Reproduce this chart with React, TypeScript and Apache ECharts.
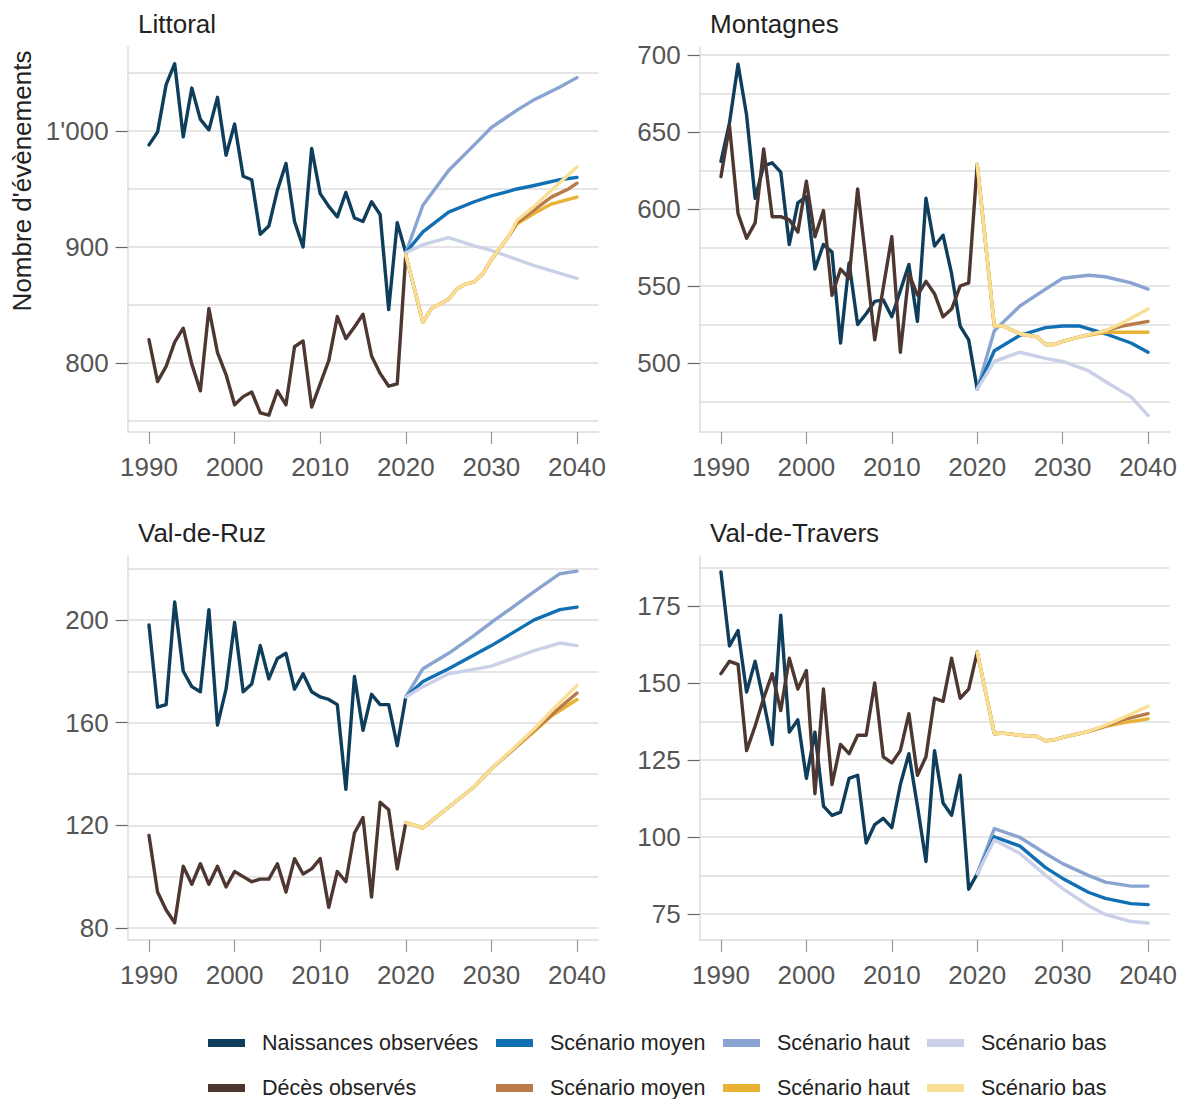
import React, { useEffect, useRef } from "react";
import * as echarts from "echarts";

// ---------- data ----------
const obsYears = [1990, 1991, 1992, 1993, 1994, 1995, 1996, 1997, 1998, 1999, 2000, 2001, 2002, 2003, 2004, 2005, 2006, 2007, 2008, 2009, 2010, 2011, 2012, 2013, 2014, 2015, 2016, 2017, 2018, 2019, 2020];
const xTicks = [1990, 2000, 2010, 2020, 2030, 2040];

// Littoral
const littoralBirths = [988, 999, 1040, 1058, 995, 1037, 1010, 1001, 1029, 979, 1006, 961, 958, 911, 918, 949, 972, 922, 900, 985, 946, 935, 926, 947, 925, 922, 939, 928, 846, 921, 895];
const littoralDeaths = [820, 784, 797, 818, 830, 799, 776, 847, 809, 790, 764, 771, 775, 757, 755, 776, 764, 814, 819, 762, 782, 802, 840, 821, 831, 842, 806, 791, 780, 782, 893];
const littoralBirthsMid = [[2020, 895], [2022, 913], [2025, 930], [2028, 939], [2030, 944], [2033, 950], [2035, 953], [2038, 958], [2040, 960]];
const littoralBirthsHigh = [[2020, 895], [2022, 936], [2025, 966], [2028, 988], [2030, 1003], [2033, 1018], [2035, 1027], [2038, 1038], [2040, 1046]];
const littoralBirthsLow = [[2020, 895], [2022, 902], [2025, 908], [2028, 901], [2030, 897], [2035, 884], [2040, 873]];
const littoralDeathsMid = [[2020, 893], [2022, 835], [2023, 847], [2025, 855], [2026, 864], [2027, 868], [2028, 870], [2029, 877], [2030, 889], [2032, 909], [2033, 921], [2035, 932], [2037, 943], [2039, 950], [2040, 955]];
const littoralDeathsHigh = [[2020, 893], [2022, 835], [2023, 847], [2025, 855], [2026, 864], [2027, 868], [2028, 870], [2029, 877], [2030, 889], [2032, 909], [2033, 920], [2035, 929], [2037, 937], [2039, 941], [2040, 943]];
const littoralDeathsLow = [[2020, 893], [2022, 835], [2023, 847], [2025, 855], [2026, 864], [2027, 868], [2028, 870], [2029, 877], [2030, 889], [2032, 909], [2033, 923], [2035, 935], [2037, 949], [2040, 969]];

// Montagnes
const montagnesBirths = [631, 656, 694, 661, 607, 628, 630, 624, 577, 604, 608, 561, 577, 572, 513, 565, 525, 532, 540, 541, 530, 547, 564, 527, 607, 576, 583, 558, 524, 515, 483];
const montagnesDeaths = [621, 654, 597, 581, 591, 639, 595, 595, 593, 585, 618, 582, 599, 544, 561, 555, 613, 565, 515, 549, 582, 507, 558, 544, 553, 545, 530, 535, 550, 552, 629];
const montagnesBirthsMid = [[2020, 483], [2022, 508], [2025, 518], [2028, 523], [2030, 524], [2032, 524], [2035, 519], [2038, 513], [2040, 507]];
const montagnesBirthsHigh = [[2020, 483], [2022, 521], [2025, 537], [2028, 548], [2030, 555], [2033, 557], [2035, 556], [2038, 552], [2040, 548]];
const montagnesBirthsLow = [[2020, 483], [2022, 501], [2025, 507], [2028, 503], [2030, 501], [2033, 495], [2035, 488], [2038, 478], [2040, 466]];
const montagnesDeathsMid = [[2020, 629], [2022, 524], [2023, 524], [2025, 519], [2027, 517], [2028, 512], [2029, 512], [2030, 514], [2032, 517], [2035, 521], [2037, 524], [2040, 527]];
const montagnesDeathsHigh = [[2020, 629], [2022, 524], [2023, 524], [2025, 519], [2027, 517], [2028, 512], [2029, 512], [2030, 514], [2032, 517], [2035, 520], [2037, 520], [2040, 520]];
const montagnesDeathsLow = [[2020, 629], [2022, 524], [2023, 524], [2025, 519], [2027, 517], [2028, 512], [2029, 512], [2030, 514], [2032, 517], [2035, 521], [2037, 526], [2040, 535]];

// Val-de-Ruz
const ruzBirths = [198, 166, 167, 207, 180, 174, 172, 204, 159, 173, 199, 172, 175, 190, 177, 185, 187, 173, 179, 172, 170, 169, 167, 134, 178, 157, 171, 167, 167, 151, 170];
const ruzDeaths = [116, 94, 87, 82, 104, 97, 105, 97, 104, 96, 102, 100, 98, 99, 99, 105, 94, 107, 101, 103, 107, 88, 102, 98, 117, 123, 92, 129, 126, 103, 121];
const ruzBirthsMid = [[2020, 170], [2022, 176], [2025, 181], [2030, 190], [2035, 200], [2038, 204], [2040, 205]];
const ruzBirthsHigh = [[2020, 170], [2022, 181], [2025, 187], [2028, 194], [2030, 199], [2035, 211], [2038, 218], [2040, 219]];
const ruzBirthsLow = [[2020, 170], [2022, 174], [2025, 179], [2030, 182], [2035, 188], [2038, 191], [2040, 190]];
const ruzDeathsMid = [[2020, 121], [2022, 119], [2025, 127], [2028, 135], [2030, 142], [2035, 157], [2037, 163], [2040, 171.5]];
const ruzDeathsHigh = [[2020, 121], [2022, 119], [2025, 127], [2028, 135], [2030, 142], [2035, 156.5], [2037, 162.5], [2040, 169]];
const ruzDeathsLow = [[2020, 121], [2022, 119], [2025, 127], [2028, 135], [2030, 142], [2035, 157.5], [2037, 164.5], [2040, 174.5]];

// Val-de-Travers
const traversBirths = [186, 162, 167, 147, 157, 144, 130, 172, 134, 138, 119, 134, 110, 107, 108, 119, 120, 98, 104, 106, 103, 117, 127, 110, 92, 128, 111, 107, 120, 83, 88];
const traversDeaths = [153, 157, 156, 128, 136, 145, 153, 141, 158, 148, 154, 114, 148, 117, 130, 127, 133, 133, 150, 126, 124, 128, 140, 120, 126, 145, 144, 158, 145, 148, 160];
const traversBirthsMid = [[2020, 88], [2022, 100], [2025, 97], [2028, 90], [2030, 86.5], [2033, 82], [2035, 80], [2038, 78.3], [2040, 78]];
const traversBirthsHigh = [[2020, 88], [2022, 102.7], [2025, 99.8], [2028, 94.6], [2030, 91.3], [2033, 87.5], [2035, 85.3], [2038, 84], [2040, 84]];
const traversBirthsLow = [[2020, 88], [2022, 99], [2025, 94.6], [2028, 87.5], [2030, 83.2], [2033, 77.7], [2035, 74.8], [2038, 72.5], [2040, 72]];
const traversDeathsMid = [[2020, 160], [2022, 133.5], [2023, 133.7], [2025, 133], [2027, 132.6], [2028, 131.2], [2029, 131.5], [2030, 132.3], [2033, 134.2], [2035, 136], [2037, 138], [2040, 140]];
const traversDeathsHigh = [[2020, 160], [2022, 133.5], [2023, 133.7], [2025, 133], [2027, 132.6], [2028, 131.2], [2029, 131.5], [2030, 132.3], [2033, 134.2], [2035, 135.8], [2037, 137], [2040, 138.3]];
const traversDeathsLow = [[2020, 160], [2022, 133.5], [2023, 133.7], [2025, 133], [2027, 132.6], [2028, 131.2], [2029, 131.5], [2030, 132.3], [2033, 134.2], [2035, 136.3], [2037, 138.6], [2040, 142.4]];

// axis ticks / ranges
const littoralLabels = [800, 900, 1000];
const littoralGrid = [750, 800, 850, 900, 950, 1000, 1050];
const montagnesLabels = [500, 550, 600, 650, 700];
const montagnesGrid = [475, 500, 525, 550, 575, 600, 625, 650, 675, 700];
const ruzLabels = [80, 120, 160, 200];
const ruzGrid = [80, 100, 120, 140, 160, 180, 200, 220];
const traversLabels = [75, 100, 125, 150, 175];
const traversGrid = [75, 87.5, 100, 112.5, 125, 137.5, 150, 162.5, 175, 187.5];

const titles = ["Littoral", "Montagnes", "Val-de-Ruz", "Val-de-Travers"];
const seriesNames = [
  "Naissances observées",
  "Naissances – Scénario moyen",
  "Naissances – Scénario haut",
  "Naissances – Scénario bas",
  "Décès observés",
  "Décès – Scénario moyen",
  "Décès – Scénario haut",
  "Décès – Scénario bas",
];
const seriesColors = ["#0f3d5c", "#1170b4", "#8aa4d1", "#c9d0e7", "#4e3731", "#b97b4a", "#e9b234", "#f9df94"];

const FONT = "'Liberation Sans', Arial, sans-serif";

export default function App() {
  const ref = useRef<HTMLDivElement>(null);

  useEffect(() => {
    if (!ref.current) return;
    const chart = echarts.init(ref.current, undefined, { renderer: "svg" });

    const panels = [
      { births: littoralBirths, deaths: littoralDeaths, proj: [littoralBirthsMid, littoralBirthsHigh, littoralBirthsLow, littoralDeathsMid, littoralDeathsHigh, littoralDeathsLow], labels: littoralLabels, grid: littoralGrid, yMin: 740.5, yMax: 1072.4 },
      { births: montagnesBirths, deaths: montagnesDeaths, proj: [montagnesBirthsMid, montagnesBirthsHigh, montagnesBirthsLow, montagnesDeathsMid, montagnesDeathsHigh, montagnesDeathsLow], labels: montagnesLabels, grid: montagnesGrid, yMin: 455.2, yMax: 705.2 },
      { births: ruzBirths, deaths: ruzDeaths, proj: [ruzBirthsMid, ruzBirthsHigh, ruzBirthsLow, ruzDeathsMid, ruzDeathsHigh, ruzDeathsLow], labels: ruzLabels, grid: ruzGrid, yMin: 75.3, yMax: 224.9 },
      { births: traversBirths, deaths: traversDeaths, proj: [traversBirthsMid, traversBirthsHigh, traversBirthsLow, traversDeathsMid, traversDeathsHigh, traversDeathsLow], labels: traversLabels, grid: traversGrid, yMin: 66.5, yMax: 191.2 },
    ];

    const gridPos = [
      { left: 127.6, top: 47, width: 470.8, height: 385 },
      { left: 699.6, top: 47, width: 470.8, height: 385 },
      { left: 127.6, top: 556, width: 470.8, height: 384 },
      { left: 699.6, top: 556, width: 470.8, height: 384 },
    ];
    const titlePos = [
      { left: 138, top: 11 },
      { left: 710, top: 11 },
      { left: 138, top: 520 },
      { left: 710, top: 520 },
    ];

    const fmtY = (v: number) => String(v).replace(/\B(?=(\d{3})+(?!\d))/g, "'");

    const grids: any[] = [];
    const xAxes: any[] = [];
    const yAxes: any[] = [];
    const series: any[] = [];
    const title: any[] = [];

    panels.forEach((p, i) => {
      grids.push({ ...gridPos[i], containLabel: false });
      title.push({
        text: titles[i],
        ...titlePos[i],
        padding: 0,
        textStyle: { fontFamily: FONT, fontSize: 26, fontWeight: "normal", color: "#222" },
      });
      xAxes.push({
        type: "value",
        gridIndex: i,
        min: 1987.5,
        max: 2042.5,
        axisLine: { show: true, onZero: false, lineStyle: { color: "#dcdcdc", width: 1.5 } },
        axisTick: { show: true, length: 12, customValues: xTicks, lineStyle: { color: "#999", width: 1.2 } },
        axisLabel: { customValues: xTicks, formatter: (v: number) => String(v), fontFamily: FONT, fontSize: 26, color: "#555", margin: 22 },
        splitLine: { show: false },
      });
      yAxes.push({
        type: "value",
        gridIndex: i,
        min: p.yMin,
        max: p.yMax,
        position: "left",
        axisLine: { show: true, lineStyle: { color: "#dcdcdc", width: 1.5 } },
        axisTick: { show: true, length: 12, customValues: p.labels, lineStyle: { color: "#666", width: 1.2 } },
        axisLabel: { customValues: p.labels, formatter: fmtY, fontFamily: FONT, fontSize: 26, color: "#555", margin: 19 },
        splitLine: { show: false },
      });
      yAxes.push({
        type: "value",
        gridIndex: i,
        min: p.yMin,
        max: p.yMax,
        position: "left",
        axisLine: { show: false },
        axisTick: { show: false, customValues: p.grid },
        axisLabel: { show: false, customValues: p.grid },
        splitLine: { show: true, lineStyle: { color: "#dcdcdc", width: 1.5 } },
      });

      const mk = (k: number, data: any[]) => ({
        type: "line",
        name: seriesNames[k],
        xAxisIndex: i,
        yAxisIndex: 2 * i,
        data,
        showSymbol: false,
        symbol: "none",
        lineStyle: { color: seriesColors[k], width: 3.4, join: "round", cap: "round" },
        itemStyle: { color: seriesColors[k] },
        emphasis: { disabled: true },
        z: 3,
      });
      series.push(mk(0, obsYears.map((y, j) => [y, p.births[j]])));
      series.push(mk(4, obsYears.map((y, j) => [y, p.deaths[j]])));
      series.push(mk(2, p.proj[1]));
      series.push(mk(1, p.proj[0]));
      series.push(mk(3, p.proj[2]));
      series.push(mk(6, p.proj[4]));
      series.push(mk(5, p.proj[3]));
      series.push(mk(7, p.proj[5]));
    });

    const legendCols = [208, 496, 723, 927];
    const legendRows = [1032, 1077];
    const legendOrder = [
      [0, 1, 2, 3],
      [4, 5, 6, 7],
    ];
    const legend: any[] = [];
    legendOrder.forEach((row, r) =>
      row.forEach((k, c) => {
        legend.push({
          data: [seriesNames[k]],
          left: legendCols[c],
          top: legendRows[r],
          padding: 0,
          icon: "rect",
          itemWidth: 37,
          itemHeight: 8,
          selectedMode: false,
          formatter: (n: string) => n.split(" – ").pop(),
          textStyle: { fontFamily: FONT, fontSize: 21.5, lineHeight: 20, color: "#222", padding: [0, 0, 0, 12] },
        });
      })
    );

    chart.setOption({
      animation: false,
      backgroundColor: "#ffffff",
      title,
      grid: grids,
      xAxis: xAxes,
      yAxis: yAxes,
      series,
      legend,
      graphic: [
        {
          type: "text",
          x: 22,
          y: 181,
          rotation: Math.PI / 2,
          style: {
            text: "Nombre d'évènements",
            fontFamily: FONT,
            fontSize: 26,
            fill: "#222",
            align: "center",
            verticalAlign: "middle",
          },
        },
      ],
    });

    return () => chart.dispose();
  }, []);

  return <div ref={ref} style={{ position: "absolute", left: 0, top: 0, width: 1180, height: 1099 }} />;
}
